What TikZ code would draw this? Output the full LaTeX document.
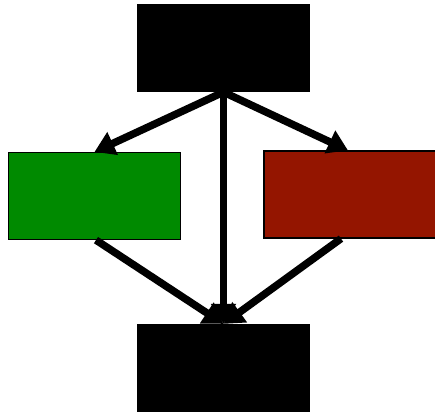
\documentclass[tikz,border=0pt]{standalone}
\usetikzlibrary{arrows.meta}
\definecolor{boxgreen}{HTML}{008A00}
\definecolor{boxred}{HTML}{941500}
\begin{document}
\begin{tikzpicture}[x=1pt,y=1pt,
  blk/.style={draw=black, line width=1.2pt, rectangle, inner sep=0pt, minimum width=172pt, minimum height=87pt},
  conn/.style={line width=7.5pt, -{Triangle[length=20pt,width=24pt]}}]
\useasboundingbox (0,0) rectangle (435,-412);
\node[blk, fill=black] (top) at (223.5,-48) {};
\node[blk, fill=boxgreen] (left) at (94.5,-196) {};
\node[blk, fill=boxred] (right) at (350,-194.5) {};
\node[blk, fill=black] (bot) at (223.5,-368) {};
\draw[conn] (top.south) -- (left.north);
\draw[conn] (top.south) -- ([xshift=-2pt]right.north);
\draw[conn] (top.south) -- (bot.north);
\draw[conn] ([xshift=1.5pt]left.south) -- (bot.north);
\draw[conn] ([xshift=-9pt]right.south) -- (bot.north);
\end{tikzpicture}
\end{document}
